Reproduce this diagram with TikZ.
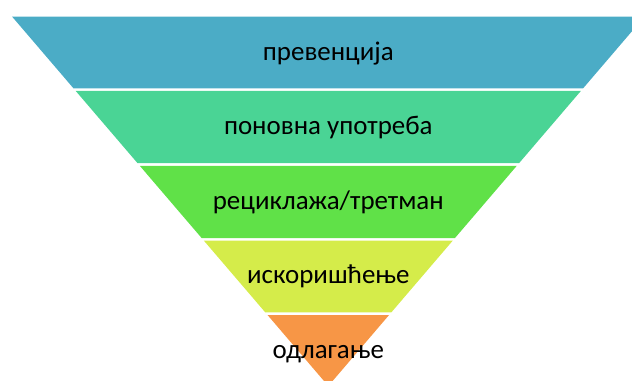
\documentclass[tikz,border=0pt]{standalone}
\usepackage{fontspec}
\setmainfont{Carlito}
\definecolor{bandA}{HTML}{4BACC6}
\definecolor{bandB}{HTML}{4AD495}
\definecolor{bandC}{HTML}{60E148}
\definecolor{bandD}{HTML}{D5EC4A}
\definecolor{bandE}{HTML}{F79646}
\tikzset{bandtext/.style={font=\fontsize{20.2}{24}\selectfont, text=black, inner sep=0pt, anchor=base}}
\begin{document}
\begin{tikzpicture}[x=0.75pt,y=-0.75pt]
\useasboundingbox (0,0) rectangle (632,380);
\clip (0,0) rectangle (632,380);
\def\cx{328.3}
\def\ay{386}
\def\sl{0.856}
% band(top, bottom, color)
\foreach \t/\b/\c in {16.7/88.3/bandA, 90.8/163/bandB, 165.8/238/bandC, 240.6/312.3/bandD, 315/386/bandE}{
  \fill[\c] ({\cx-(\ay-\t)*\sl},\t) -- ({\cx+(\ay-\t)*\sl},\t) -- ({\cx+(\ay-\b)*\sl},\b) -- ({\cx-(\ay-\b)*\sl},\b) -- cycle;
}
\node[bandtext] (t1) at (\cx,60) {превенција};
\node[bandtext] (t2) at (\cx,134.3) {поновна употреба};
\node[bandtext] (t3) at (\cx,209.2) {рециклажа/третман};
\node[bandtext] (t4) at (\cx,283.8) {искоришћење};
\node[bandtext] (t5) at (\cx,358.3) {одлагање};
\end{tikzpicture}
\end{document}
